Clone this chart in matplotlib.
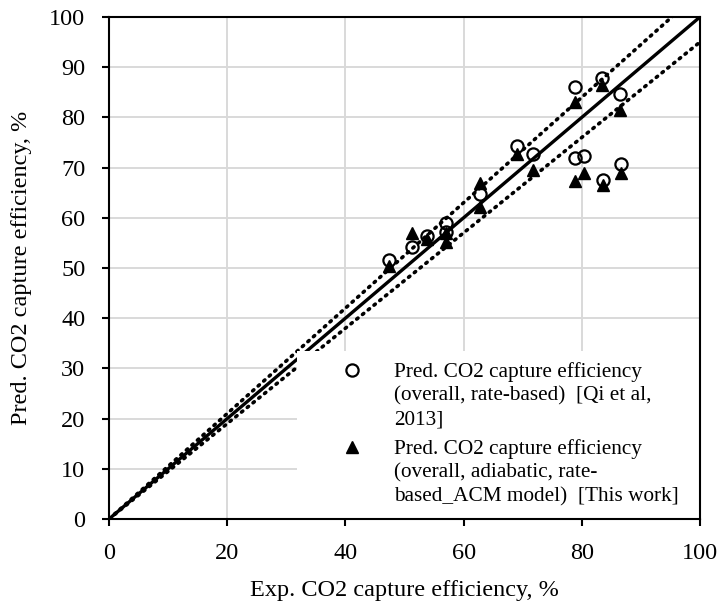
import matplotlib
matplotlib.use("Agg")
import matplotlib.pyplot as plt
import matplotlib.patches as mpatches
import numpy as np

plt.rcParams["font.family"] = ["Liberation Serif", "DejaVu Serif"]

# Pred. CO2 capture efficiency [Qi et al, 2013] (open circles)
qi_exp = [47.4, 51.3, 53.8, 57.1, 57.1, 62.8, 69.0, 71.8, 78.8, 83.4, 86.5,
          78.8, 80.4, 83.6, 86.7]
qi_pred = [51.5, 54.2, 56.4, 58.9, 57.2, 64.7, 74.3, 72.7, 86.1, 87.8, 84.6,
           72.0, 72.3, 67.5, 70.7]

# Pred. CO2 capture efficiency [This work] (filled triangles)
acm_exp = [47.4, 51.3, 53.8, 57.1, 57.1, 62.8, 62.8, 69.0, 71.8, 78.8, 83.4,
           86.5, 78.8, 80.4, 83.6, 86.7]
acm_pred = [50.3, 56.9, 55.7, 57.0, 55.2, 66.9, 62.1, 72.8, 69.5, 83.1, 86.5,
            81.5, 67.4, 69.0, 66.5, 68.9]

parity_x = [0, 100]
band = 0.05  # +/- 5 % lines

fig = plt.figure(figsize=(7.2, 6.04), dpi=100)
ax = fig.add_axes([0.1514, 0.1407, 0.8208, 0.8312])

x = np.array(parity_x, dtype=float)
ax.plot(x, x, color="black", lw=2.4, zorder=3)
for f in (1 + band, 1 - band):
    ax.plot(x, x * f, color="black", lw=2.6, ls=(0, (0.45, 1.6)),
            dash_capstyle="round", zorder=3)

ax.plot(qi_exp, qi_pred, ls="none", marker="o", ms=8.8, mfc="none",
        mec="black", mew=1.6, zorder=5,
        label="Pred. CO2 capture efficiency\n(overall, rate-based)  [Qi et al,\n2013]")
ax.plot(acm_exp, acm_pred, ls="none", marker="^", ms=9.3, color="black",
        zorder=4,
        label="Pred. CO2 capture efficiency\n(overall, adiabatic, rate-\n"
              "based_ACM model)  [This work]")

ax.set_xlim(0, 100)
ax.set_ylim(0, 100)
ax.set_xticks(np.arange(0, 101, 20))
ax.set_yticks(np.arange(0, 101, 10))
ax.grid(True, color="#d9d9d9", lw=1.4)
ax.set_axisbelow(True)
for s in ax.spines.values():
    s.set_linewidth(1.5)
    s.set_zorder(6)
ax.tick_params(direction="out", length=5, width=1.5, labelsize=17.5)
ax.tick_params(axis="x", pad=12)
ax.tick_params(axis="y", pad=12)

ax.set_xlabel("Exp. CO2 capture efficiency, %", fontsize=17.5)
ax.set_ylabel("Pred. CO2 capture efficiency, %", fontsize=17.5)
ax.xaxis.set_label_coords(0.5, -0.121)
ax.yaxis.set_label_coords(-0.13, 0.5)

# white area behind the legend hides grid and parity lines
ax.add_patch(mpatches.Rectangle((0.318, 0), 0.682, 0.335,
                                transform=ax.transAxes, fc="white",
                                ec="none", zorder=4.5))

leg = ax.legend(loc="upper left", bbox_to_anchor=(0.393, 0.313),
                borderaxespad=0, borderpad=0, fontsize=15.3, frameon=False,
                handlelength=1.0, handleheight=1.0, handletextpad=1.475,
                labelspacing=0.47)
leg.set_zorder(5.5)
for t in leg.get_texts():
    t.set_linespacing(1.32)
# put the marker next to the first line of each entry
for col in leg._legend_handle_box.get_children():
    for row in col.get_children():
        row.align = "top"

fig.savefig("out.png", dpi=100)
